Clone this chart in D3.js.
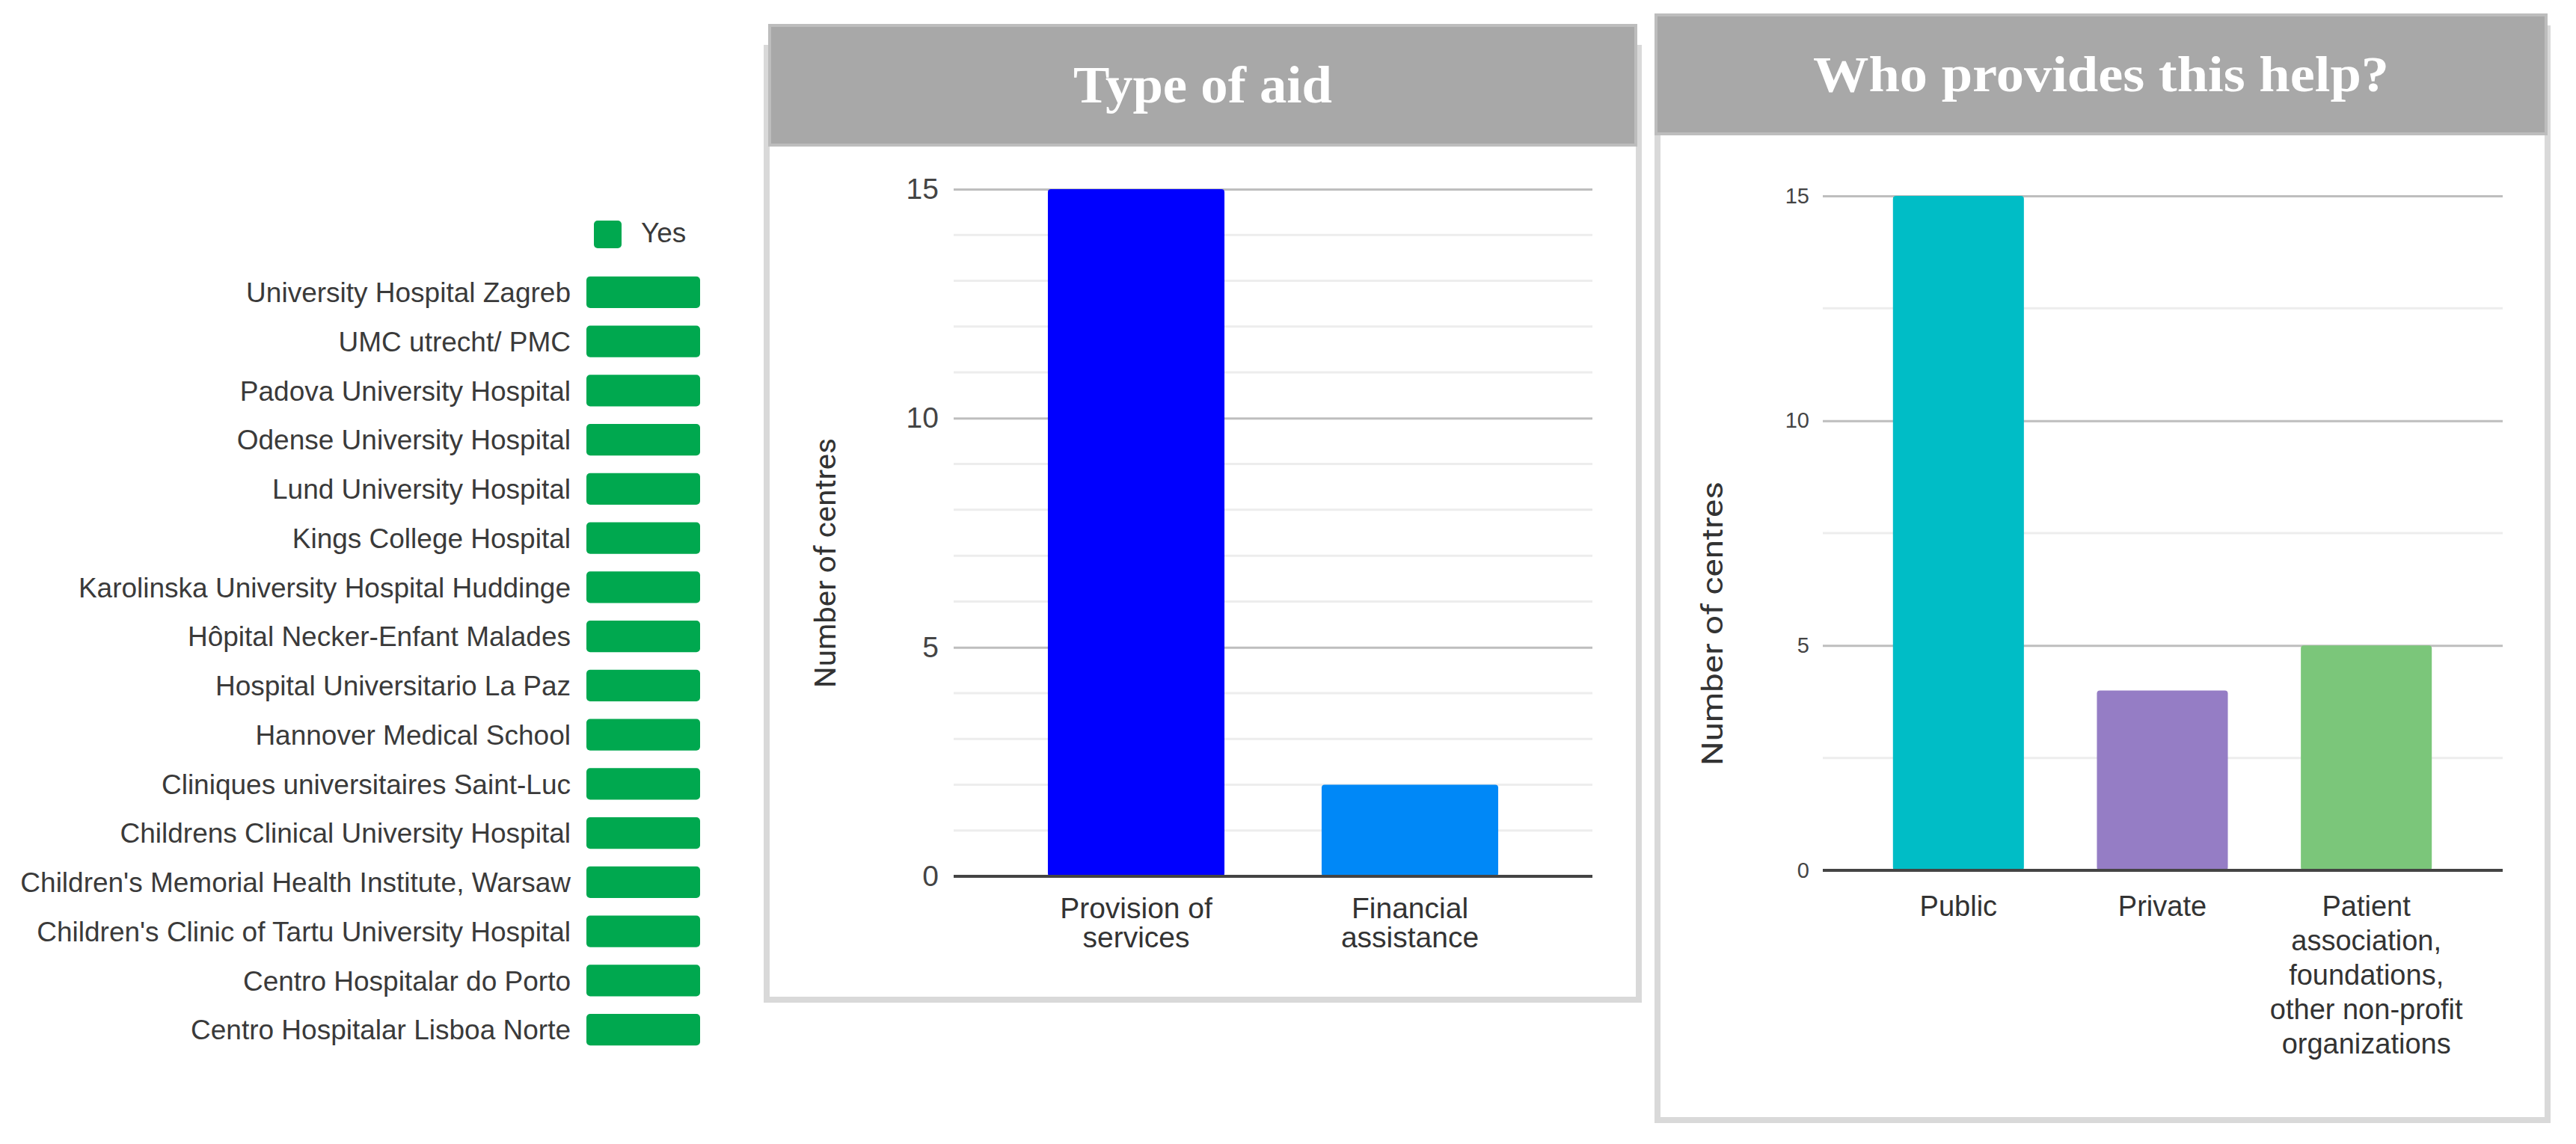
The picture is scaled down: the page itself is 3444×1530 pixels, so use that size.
<!DOCTYPE html>
<html>
<head>
<meta charset="utf-8">
<script src="https://cdn.jsdelivr.net/npm/d3@7"></script>
<style>
  html, body { margin: 0; padding: 0; background: #fff; }
  svg { display: block; font-family: "Liberation Sans", Arial, sans-serif; }
</style>
</head>
<body>
<svg id="chart" width="3444" height="1530"></svg>
<script>
// ---------------- DATA ----------------
const hospitals = [
  "University Hospital Zagreb",
  "UMC utrecht/ PMC",
  "Padova University Hospital",
  "Odense University Hospital",
  "Lund University Hospital",
  "Kings College Hospital",
  "Karolinska University Hospital Huddinge",
  "Hôpital Necker-Enfant Malades",
  "Hospital Universitario La Paz",
  "Hannover Medical School",
  "Cliniques universitaires Saint-Luc",
  "Childrens Clinical University Hospital",
  "Children's Memorial Health Institute, Warsaw",
  "Children's Clinic of Tartu University Hospital",
  "Centro Hospitalar do Porto",
  "Centro Hospitalar Lisboa Norte"
];
const hospitalYes = [1,1,1,1,1,1,1,1,1,1,1,1,1,1,1,1];
const legendLabel = "Yes";

const aidTitle = "Type of aid";
const aidCategories = ["Provision of\nservices", "Financial\nassistance"];
const aidValues = [15, 2];

const providerTitle = "Who provides this help?";
const providerCategories = ["Public", "Private", "Patient\nassociation,\nfoundations,\nother non-profit\norganizations"];
const providerValues = [15, 4, 5];

const yTicks = [0, 5, 10, 15];
const aidMinorTicks = [1,2,3,4,6,7,8,9,11,12,13,14];
const providerMinorTicks = [2.5, 7.5, 12.5];
const yAxisTitle = "Number of centres";

// ---------------- STYLE ----------------
const GREEN = "#00a84f";
const aidColors = ["#0000ff", "#0088f7"];
const providerColors = ["#00bdc6", "#957dc5", "#7bc67a"];
const SANS = "'Liberation Sans', Arial, sans-serif";
const SERIF = "'Liberation Serif', 'DejaVu Serif', serif";

const svg = d3.select("#chart");

// ---------------- LEFT: hospitals ----------------
{
  const x = d3.scaleLinear().domain([0, 1]).range([784, 936]);
  const y = d3.scaleBand().domain(hospitals).range([358, 1410])
    .paddingInner(0.36).paddingOuter(0.18);
  const g = svg.append("g");
  g.selectAll("rect.h").data(hospitals).join("rect")
    .attr("x", x(0)).attr("y", d => y(d))
    .attr("width", (d, i) => x(hospitalYes[i]) - x(0))
    .attr("height", y.bandwidth())
    .attr("rx", 5).attr("fill", GREEN);
  g.selectAll("text.h").data(hospitals).join("text")
    .attr("x", 763).attr("y", d => y(d) + y.bandwidth() / 2)
    .attr("dy", "0.36em").attr("text-anchor", "end")
    .style("font-family", SANS)
    .attr("font-size", 37).attr("fill", "#3a3a3a")
    .text(d => d);
  // legend
  g.append("rect").attr("x", 794).attr("y", 295).attr("width", 37).attr("height", 37)
    .attr("rx", 5).attr("fill", GREEN);
  g.append("text").attr("x", 857).attr("y", 324).attr("font-size", 37)
    .style("font-family", SANS)
    .attr("fill", "#3a3a3a").text(legendLabel);
}

// ---------------- panel helper ----------------
function panel(o) {
  const g = svg.append("g");
  g.append("rect").attr("x", o.px).attr("y", o.py).attr("width", o.pw).attr("height", o.ph)
    .attr("fill", "#fff").attr("stroke", "#d9d9d9").attr("stroke-width", 8);
  g.append("rect").attr("x", o.hx).attr("y", o.hy).attr("width", o.hw).attr("height", o.hh)
    .attr("fill", "#a8a8a8").attr("stroke", "#bdbdbd").attr("stroke-width", 4);
  g.append("text").attr("x", o.hx + o.hw / 2).attr("y", o.tBase)
    .attr("text-anchor", "middle").attr("fill", "#fff")
    .style("font-family", SERIF)
    .attr("font-weight", "bold").attr("font-size", o.tSize)
    .attr("textLength", o.tLen).attr("lengthAdjust", "spacingAndGlyphs")
    .text(o.title);

  const y = d3.scaleLinear().domain([0, 15]).range([o.y0, o.y15]);
  const x = d3.scaleBand().domain(o.categories).range([o.bx0, o.bx1])
    .paddingInner(o.pad).paddingOuter(o.pad / 2);

  // minor gridlines
  g.selectAll("line.minor").data(o.minor).join("line")
    .attr("x1", o.gx0).attr("x2", o.gx1).attr("y1", d => y(d)).attr("y2", d => y(d))
    .attr("stroke", "#ededed").attr("stroke-width", 3);
  // major gridlines + labels via axis
  const ax = g.append("g").attr("transform", `translate(${o.gx0},0)`)
    .call(d3.axisLeft(y).tickValues(yTicks).tickSize(-(o.gx1 - o.gx0)).tickPadding(o.tickPad).tickFormat(d3.format("d")));
  ax.select(".domain").remove();
  ax.selectAll(".tick line").attr("stroke", d => d === 0 ? "none" : "#bebebe").attr("stroke-width", 3);
  ax.selectAll(".tick text").attr("font-size", o.tickSize).attr("fill", "#444")
    .style("font-family", SANS);

  // bars
  g.selectAll("rect.bar").data(o.values).join("rect")
    .attr("x", (d, i) => x(o.categories[i])).attr("width", x.bandwidth())
    .attr("y", d => y(d)).attr("height", d => y(0) - y(d))
    .attr("rx", 4).attr("fill", (d, i) => o.colors[i]);

  // zero line
  g.append("line").attr("x1", o.gx0).attr("x2", o.gx1).attr("y1", y(0)).attr("y2", y(0))
    .attr("stroke", "#444").attr("stroke-width", 4);

  // category labels
  const xl = g.append("g").attr("transform", `translate(0,${y(0)})`)
    .call(d3.axisBottom(x).tickSize(0).tickFormat(""));
  xl.select(".domain").remove();
  xl.selectAll(".tick text").remove();
  xl.selectAll(".tick").append("text")
    .attr("text-anchor", "middle").attr("fill", "#333")
    .attr("font-size", o.catSize).style("font-family", SANS)
    .selectAll("tspan").data(d => d.split("\n")).join("tspan")
    .attr("x", 0).attr("y", (d, i) => o.catBase + i * o.catLine).text(d => d);

  // y axis title
  g.append("text")
    .attr("transform", `translate(${o.atX},${o.atY}) rotate(-90)`)
    .attr("text-anchor", "middle").attr("font-size", o.atSize).attr("fill", "#333")
    .style("font-family", "Roboto, 'Liberation Sans', sans-serif")
    .attr("textLength", o.atLen).attr("lengthAdjust", "spacingAndGlyphs")
    .text(yAxisTitle);
}

panel({
  px: 1025, py: 64, pw: 1166, ph: 1273,
  hx: 1029, hy: 34, hw: 1158, hh: 160,
  title: aidTitle, tBase: 137, tSize: 70, tLen: 346,
  y0: 1172, y15: 253, gx0: 1275, gx1: 2129,
  bx0: 1336, bx1: 2068, pad: 0.355,
  categories: aidCategories, values: aidValues, colors: aidColors,
  minor: aidMinorTicks, tickPad: 20, tickSize: 39,
  catSize: 39, catBase: 56, catLine: 39,
  atX: 1117, atY: 753, atSize: 39, atLen: 334
});

panel({
  px: 2216, py: 38, pw: 1190, ph: 1460,
  hx: 2214, hy: 20, hw: 1190, hh: 159,
  title: providerTitle, tBase: 122, tSize: 68, tLen: 770,
  y0: 1164, y15: 262, gx0: 2437, gx1: 3346,
  bx0: 2482, bx1: 3300, pad: 0.358,
  categories: providerCategories, values: providerValues, colors: providerColors,
  minor: providerMinorTicks, tickPad: 18, tickSize: 29,
  catSize: 38, catBase: 61, catLine: 46,
  atX: 2303, atY: 834, atSize: 39, atLen: 380
});
</script>
</body>
</html>
